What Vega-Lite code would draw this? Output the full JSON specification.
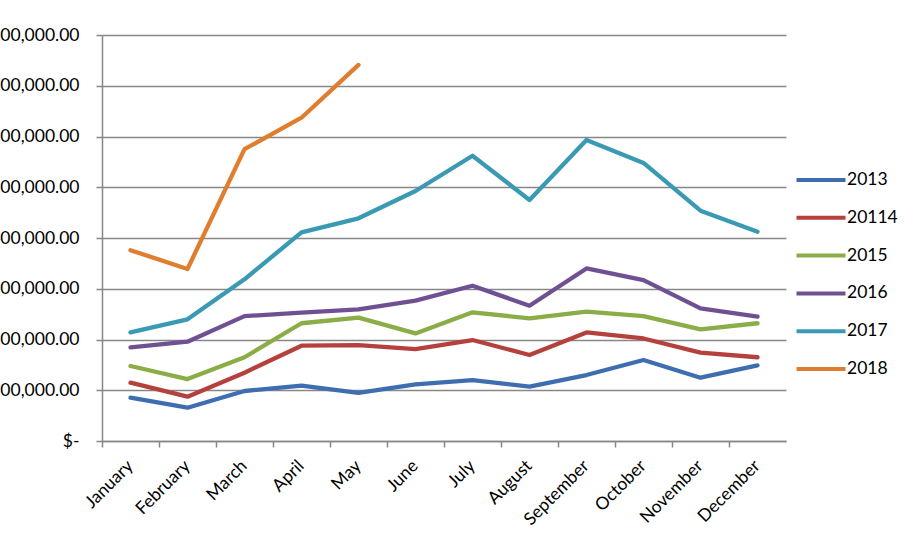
{
  "$schema": "https://vega.github.io/schema/vega-lite/v6.json",
  "autosize": {"type": "none"},
  "width": 684,
  "height": 406,
  "padding": {"left": 102, "top": 35, "right": 133, "bottom": 105},
  "background": "white",
  "config": {
    "view": {"stroke": null},
    "font": "Lato",
    "axis": {"labelFont": "Lato", "labelFontSize": 17.5, "labelColor": "#000000", "domainColor": "#878787", "tickColor": "#878787", "gridColor": "#878787", "domainWidth": 1.5, "tickWidth": 1.5, "gridWidth": 1.3}
  },
  "data": {
    "values": [
      {"month": "January", "series": "2013", "value": 85300},
      {"month": "February", "series": "2013", "value": 65600},
      {"month": "March", "series": "2013", "value": 98500},
      {"month": "April", "series": "2013", "value": 109000},
      {"month": "May", "series": "2013", "value": 95000},
      {"month": "June", "series": "2013", "value": 111700},
      {"month": "July", "series": "2013", "value": 120000},
      {"month": "August", "series": "2013", "value": 107000},
      {"month": "September", "series": "2013", "value": 130000},
      {"month": "October", "series": "2013", "value": 159600},
      {"month": "November", "series": "2013", "value": 124700},
      {"month": "December", "series": "2013", "value": 149000},
      {"month": "January", "series": "20114", "value": 114900},
      {"month": "February", "series": "20114", "value": 87300},
      {"month": "March", "series": "20114", "value": 134600},
      {"month": "April", "series": "20114", "value": 187800},
      {"month": "May", "series": "20114", "value": 189000},
      {"month": "June", "series": "20114", "value": 181000},
      {"month": "July", "series": "20114", "value": 199000},
      {"month": "August", "series": "20114", "value": 169500},
      {"month": "September", "series": "20114", "value": 214000},
      {"month": "October", "series": "20114", "value": 202000},
      {"month": "November", "series": "20114", "value": 174000},
      {"month": "December", "series": "20114", "value": 165000},
      {"month": "January", "series": "2015", "value": 147800},
      {"month": "February", "series": "2015", "value": 122000},
      {"month": "March", "series": "2015", "value": 165000},
      {"month": "April", "series": "2015", "value": 232000},
      {"month": "May", "series": "2015", "value": 243000},
      {"month": "June", "series": "2015", "value": 212000},
      {"month": "July", "series": "2015", "value": 253600},
      {"month": "August", "series": "2015", "value": 241700},
      {"month": "September", "series": "2015", "value": 254800},
      {"month": "October", "series": "2015", "value": 246000},
      {"month": "November", "series": "2015", "value": 220000},
      {"month": "December", "series": "2015", "value": 232000},
      {"month": "January", "series": "2016", "value": 184600},
      {"month": "February", "series": "2016", "value": 195700},
      {"month": "March", "series": "2016", "value": 246000},
      {"month": "April", "series": "2016", "value": 252800},
      {"month": "May", "series": "2016", "value": 259500},
      {"month": "June", "series": "2016", "value": 276500},
      {"month": "July", "series": "2016", "value": 306000},
      {"month": "August", "series": "2016", "value": 266600},
      {"month": "September", "series": "2016", "value": 340000},
      {"month": "October", "series": "2016", "value": 317000},
      {"month": "November", "series": "2016", "value": 261400},
      {"month": "December", "series": "2016", "value": 245000},
      {"month": "January", "series": "2017", "value": 214000},
      {"month": "February", "series": "2017", "value": 239800},
      {"month": "March", "series": "2017", "value": 318600},
      {"month": "April", "series": "2017", "value": 411000},
      {"month": "May", "series": "2017", "value": 438800},
      {"month": "June", "series": "2017", "value": 492600},
      {"month": "July", "series": "2017", "value": 562000},
      {"month": "August", "series": "2017", "value": 475000},
      {"month": "September", "series": "2017", "value": 593000},
      {"month": "October", "series": "2017", "value": 548000},
      {"month": "November", "series": "2017", "value": 453800},
      {"month": "December", "series": "2017", "value": 412400},
      {"month": "January", "series": "2018", "value": 376000},
      {"month": "February", "series": "2018", "value": 339000},
      {"month": "March", "series": "2018", "value": 575000},
      {"month": "April", "series": "2018", "value": 637000},
      {"month": "May", "series": "2018", "value": 741000}
    ]
  },
  "encoding": {
    "y": {
      "field": "value",
      "type": "quantitative",
      "scale": {"domain": [0, 800000], "nice": false},
      "axis": {"title": null, "values": [0, 100000, 200000, 300000, 400000, 500000, 600000, 700000, 800000], "grid": true, "tickSize": 6, "labelPadding": 17, "labelExpr": "datum.value == 0 ? '$-\u00a0\u00a0\u00a0\u00a0\u00a0\u00a0\u00a0\u00a0' : '$' + format(datum.value, ',.2f')"}
    },
    "color": {
      "field": "series",
      "type": "nominal",
      "scale": {"domain": ["2013", "20114", "2015", "2016", "2017", "2018"], "range": ["#3E6EB0", "#B5413D", "#8AAD47", "#6F5193", "#3A9AB3", "#E07E30"]},
      "legend": {"title": null, "orient": "none", "legendX": 707, "legendY": 133, "symbolType": "M-2.45,0L2.45,0", "symbolSize": 400, "symbolStrokeWidth": 4, "labelFont": "Lato", "labelFontSize": 17.5, "labelColor": "#000000", "labelOffset": 14, "rowPadding": 16.8, "padding": 0}
    }
  },
  "layer": [
    {
      "mark": {"type": "line", "strokeWidth": 4.3, "strokeCap": "round", "strokeJoin": "round", "opacity": 0},
      "encoding": {
        "x": {
          "field": "month",
          "type": "ordinal",
          "bandPosition": 0.5,
          "sort": ["January", "February", "March", "April", "May", "June", "July", "August", "September", "October", "November", "December"],
          "scale": {"type": "band", "paddingInner": 0, "paddingOuter": 0},
          "axis": {"title": null, "orient": "bottom", "bandPosition": 0, "labels": false, "ticks": true, "tickSize": 6, "domain": true, "grid": false}
        }
      }
    },
    {
      "mark": {"type": "line", "strokeWidth": 4.3, "strokeCap": "round", "strokeJoin": "round"},
      "encoding": {
        "x": {
          "field": "month",
          "type": "ordinal",
          "bandPosition": 0.5,
          "sort": ["January", "February", "March", "April", "May", "June", "July", "August", "September", "October", "November", "December"],
          "scale": {"type": "band", "paddingInner": 0, "paddingOuter": 0},
          "axis": {"title": null, "orient": "bottom", "labelAngle": -45, "labelAlign": "right", "labelBaseline": "middle", "ticks": false, "domain": false, "tickSize": 6, "labelPadding": 22, "grid": false}
        }
      }
    }
  ],
  "resolve": {"axis": {"x": "independent"}}
}
